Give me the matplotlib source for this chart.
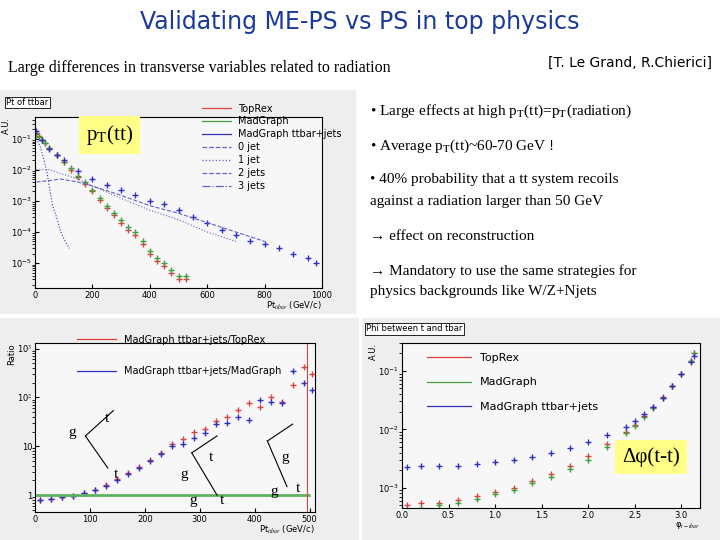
import matplotlib.pyplot as plt
from matplotlib.lines import Line2D
from matplotlib.patches import Rectangle

W, H = 720, 540

# ---- pT(ttbar) distributions (top-left) ----
pt_x = [5, 15, 25, 35, 50, 75, 100, 125, 150, 175, 200, 225, 250, 275, 300, 325, 350, 375, 400, 425, 450, 475, 500, 525]
toprex = [0.15, 0.12, 0.09, 0.07, 0.05, 0.03, 0.018, 0.01, 0.006, 0.0035, 0.002, 0.0011, 0.0006, 0.00035, 0.0002, 0.00012, 0.00008, 0.00004, 0.00002, 0.000012, 0.000008, 0.000005, 0.000003, 0.000003]
madgraph = [0.14, 0.11, 0.09, 0.07, 0.05, 0.03, 0.018, 0.011, 0.0065, 0.004, 0.0022, 0.0012, 0.0007, 0.0004, 0.00024, 0.00015, 0.0001, 0.00005, 0.000025, 0.000015, 0.00001, 0.000006, 0.000004, 0.000004]
mgj_x = [5, 25, 50, 75, 100, 150, 200, 250, 300, 350, 400, 450, 500, 550, 600, 650, 700, 750, 800, 850, 900, 950, 980]
mgj = [0.17, 0.09, 0.045, 0.03, 0.02, 0.009, 0.005, 0.0033, 0.0022, 0.0015, 0.001, 0.0008, 0.0005, 0.0003, 0.0002, 0.00012, 0.00008, 0.00005, 0.00004, 0.00003, 0.00002, 0.000015, 0.00001]
jet0_x = [5, 20, 40, 60, 75, 90, 105, 120]
jet0 = [0.1, 0.05, 0.01, 0.0008, 0.0003, 0.0001, 0.00005, 0.00003]
jet1_x = [5, 50, 100, 150, 200, 300, 400, 500, 600, 700]
jet1 = [0.01, 0.01, 0.007, 0.005, 0.003, 0.0012, 0.0005, 0.00025, 0.0001, 0.00005]
jet2_x = [5, 50, 90, 150, 200, 300, 400, 500, 600, 700, 800]
jet2 = [0.004, 0.0045, 0.005, 0.004, 0.003, 0.0015, 0.0007, 0.0004, 0.0002, 0.0001, 0.00005]

# ---- ratio (bottom-left) ----
ratio_x = [10, 30, 50, 70, 90, 110, 130, 150, 170, 190, 210, 230, 250, 270, 290, 310, 330, 350, 370, 390, 410, 430, 450, 470, 490, 505]
ratio_red = [0.8, 0.85, 0.9, 0.97, 1.1, 1.3, 1.6, 2.1, 2.8, 3.8, 5.2, 7.3, 11, 14, 20, 23, 33, 40, 55, 75, 65, 100, 80, 180, 420, 300]
ratio_blue = [0.8, 0.85, 0.9, 0.97, 1.1, 1.3, 1.55, 2.0, 2.7, 3.6, 5.0, 7.0, 10, 11, 15, 19, 28, 30, 40, 35, 90, 80, 75, 350, 200, 140]

# ---- delta phi (bottom-right) ----
phi_x = [0.05, 0.2, 0.4, 0.6, 0.8, 1.0, 1.2, 1.4, 1.6, 1.8, 2.0, 2.2, 2.4, 2.5, 2.6, 2.7, 2.8, 2.9, 3.0, 3.1, 3.14]
phi_red = [0.0005, 0.00055, 0.00055, 0.00062, 0.00072, 0.00085, 0.001, 0.0013, 0.0017, 0.0024, 0.0035, 0.0055, 0.009, 0.012, 0.017, 0.024, 0.036, 0.055, 0.09, 0.15, 0.2]
phi_green = [0.00042, 0.00045, 0.0005, 0.00055, 0.00065, 0.00078, 0.00092, 0.0012, 0.0015, 0.0021, 0.003, 0.005, 0.0085, 0.0115, 0.016, 0.023, 0.035, 0.055, 0.09, 0.15, 0.2]
phi_blue = [0.0023, 0.0024, 0.0024, 0.0024, 0.0025, 0.0028, 0.003, 0.0033, 0.004, 0.0048, 0.006, 0.008, 0.011, 0.014, 0.018, 0.024, 0.035, 0.055, 0.09, 0.14, 0.18]

RED, GREEN, BLUE = "#e04040", "#40a040", "#3030c0"

plt.rcParams["font.family"] = ["DejaVu Sans"]
plt.rcParams["mathtext.fontset"] = "stix"
fig = plt.figure(figsize=(W / 100, H / 100), dpi=100)


def box(x0, y0, x1, y1):
    return [x0 / W, 1 - y1 / H, (x1 - x0) / W, (y1 - y0) / H]


def handle(color, ls="-"):
    return Line2D([], [], color=color, ls=ls, lw=0.9)


# panel backgrounds
for b in [(0, 90, 355, 313), (0, 318, 358, 540), (362, 318, 720, 540)]:
    fig.patches.append(Rectangle((b[0] / W, 1 - b[3] / H), (b[2] - b[0]) / W, (b[3] - b[1]) / H,
                                 transform=fig.transFigure, color="#eeeeee", zorder=-5))

fig.text(0.5, 1 - 22 / H, "Validating ME-PS vs PS in top physics", ha="center", va="center",
         fontsize=17, color="#1a3a9a")
fig.text(8 / W, 1 - 68 / H, "Large differences in transverse variables related to radiation",
         ha="left", va="center", fontsize=11.5, family="Liberation Serif")
fig.text(548 / W, 1 - 63 / H, "[T. Le Grand, R.Chierici]", ha="left", va="center", fontsize=10)

serif = dict(family="Liberation Serif", fontsize=11, va="center")
fig.text(370 / W, 1 - 111 / H, "• Large effects at high p$_\\mathrm{T}$(tt)=p$_\\mathrm{T}$(radiation)", **serif)
fig.text(370 / W, 1 - 146 / H, "• Average p$_\\mathrm{T}$(tt)~60-70 GeV !", **serif)
fig.text(370 / W, 1 - 180 / H, "• 40% probability that a tt system recoils", **serif)
fig.text(370 / W, 1 - 201 / H, "against a radiation larger than 50 GeV", **serif)
fig.text(370 / W, 1 - 237 / H, "→ effect on reconstruction", **serif)
fig.text(370 / W, 1 - 271 / H, "→ Mandatory to use the same strategies for", **serif)
fig.text(370 / W, 1 - 292 / H, "physics backgrounds like W/Z+Njets", **serif)


def style(ax):
    ax.set_facecolor("#f7f7f7")
    ax.tick_params(labelsize=6, direction="in", length=3, pad=2)
    for s in ax.spines.values():
        s.set_linewidth(0.8)


# ---- top-left ----
ax1 = fig.add_axes(box(35, 117, 322, 288))
style(ax1)
ax1.set_yscale("log")
ax1.set_xlim(0, 1000)
ax1.set_ylim(1.6e-6, 0.49)
ax1.plot(pt_x, toprex, "+", color=RED, ms=4)
ax1.plot(pt_x, madgraph, "+", color=GREEN, ms=4)
ax1.plot(mgj_x, mgj, "+", color=BLUE, ms=4)
ax1.plot(jet0_x, jet0, ":", color=BLUE, lw=0.8)
ax1.plot(jet1_x, jet1, ":", color="#6060d0", lw=0.8)
ax1.plot(jet2_x, jet2, "--", color="#6060d0", lw=0.8)
ax1.legend([handle(RED), handle(GREEN), handle(BLUE), handle("#6060d0", "--"), handle("#6060d0", ":"),
            handle("#6060d0", "--"), handle("#6060d0", "-.")],
           ["TopRex", "MadGraph", "MadGraph ttbar+jets", "0 jet", "1 jet", "2 jets", "3 jets"],
           loc="upper right", bbox_to_anchor=(1.1, 1.13), fontsize=7, frameon=False,
           handlelength=3, labelspacing=0.3)
ax1.set_ylabel("A.U.", fontsize=6, loc="top", labelpad=0)
ax1.set_xlabel("Pt$_{ttbar}$ (GeV/c)", fontsize=6, loc="right", labelpad=0)
ax1.text(-0.1, 1.07, "Pt of ttbar", transform=ax1.transAxes, fontsize=6,
         bbox=dict(fc="white", ec="black", lw=0.6, pad=1))
fig.text(86 / W, 1 - 135 / H, "p$_\\mathrm{T}$(tt)", family="Liberation Serif", fontsize=15, va="center",
         bbox=dict(fc="#ffff88", ec="none", pad=5))

# ---- bottom-left ----
ax2 = fig.add_axes(box(35, 343, 315, 512))
style(ax2)
ax2.set_yscale("log")
ax2.set_xlim(0, 510)
ax2.set_ylim(0.45, 1300)
ax2.plot(ratio_x, ratio_red, "+", color=RED, ms=5)
ax2.plot(ratio_x, ratio_blue, "+", color=BLUE, ms=5)
ax2.hlines(1, 0, 500, color="#60b060", lw=2)
ax2.axvline(495, color=RED, lw=0.8)
ax2.set_yticks([1, 10, 100, 1000], ["1", "10", "10$^2$", "10$^3$"])
ax2.legend([handle(RED), handle(BLUE)],
           ["MadGraph ttbar+jets/TopRex", "MadGraph ttbar+jets/MadGraph"],
           loc="upper left", bbox_to_anchor=(0.12, 1.1), fontsize=7, frameon=False,
           handlelength=4, labelspacing=2.2)
ax2.set_ylabel("Ratio", fontsize=6, loc="top", labelpad=0)
ax2.set_xlabel("Pt$_{ttbar}$ (GeV/c)", fontsize=6, loc="right", labelpad=0)
# schematic feynman labels
for x, y, s in [(0.12, 0.45, "g"), (0.25, 0.53, "t"), (0.28, 0.2, "t"), (0.52, 0.2, "g"),
                (0.62, 0.3, "t"), (0.55, 0.05, "g"), (0.66, 0.05, "t"), (0.88, 0.3, "g"),
                (0.84, 0.1, "g"), (0.93, 0.12, "t")]:
    ax2.text(x, y, s, transform=ax2.transAxes, fontsize=11, family="Liberation Serif")
for (x0, y0, x1, y1) in [(0.18, 0.45, 0.28, 0.6), (0.18, 0.45, 0.26, 0.26), (0.56, 0.35, 0.65, 0.45),
                         (0.56, 0.35, 0.65, 0.1), (0.83, 0.42, 0.92, 0.52), (0.83, 0.42, 0.9, 0.15)]:
    ax2.plot([x0, x1], [y0, y1], color="black", lw=0.8, transform=ax2.transAxes)

# ---- bottom-right ----
ax3 = fig.add_axes(box(402, 343, 700, 508))
style(ax3)
ax3.set_yscale("log")
ax3.set_xlim(0, 3.2)
ax3.set_ylim(4.5e-4, 0.3)
ax3.plot(phi_x, phi_red, "+", color=RED, ms=4)
ax3.plot(phi_x, phi_green, "+", color=GREEN, ms=4)
ax3.plot(phi_x, phi_blue, "+", color=BLUE, ms=4)
ax3.legend([handle(RED), handle(GREEN), handle(BLUE)], ["TopRex", "MadGraph", "MadGraph ttbar+jets"],
           loc="upper left", bbox_to_anchor=(0.05, 1.0), fontsize=8, frameon=False,
           handlelength=4, labelspacing=1.3)
ax3.set_ylabel("A.U.", fontsize=6, loc="top", labelpad=0)
ax3.set_xlabel("φ$_{t-tbar}$", fontsize=6, loc="right", labelpad=0)
ax3.text(-0.12, 1.07, "Phi between t and tbar", transform=ax3.transAxes, fontsize=6,
         bbox=dict(fc="white", ec="black", lw=0.6, pad=1))
fig.text(622 / W, 1 - 457 / H, "Δφ(t-t)", fontsize=15, va="center", family="Liberation Serif",
         bbox=dict(fc="#ffff88", ec="none", pad=5))

fig.savefig("out.png", dpi=100)
